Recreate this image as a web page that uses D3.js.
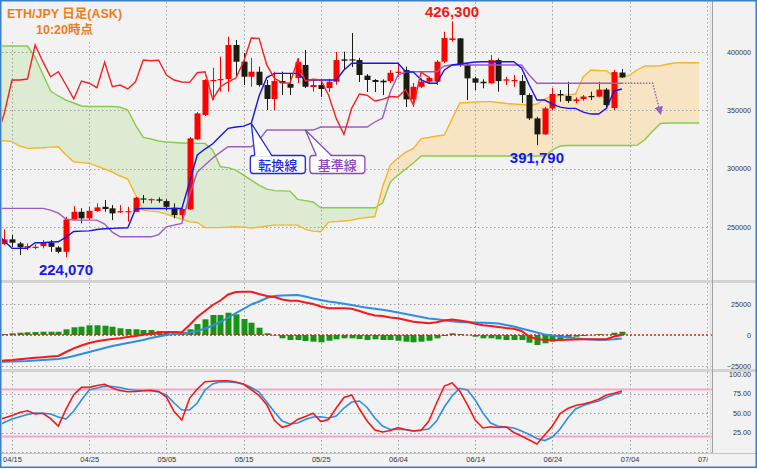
<!DOCTYPE html>
<html lang="ja">
<head>
<meta charset="utf-8">
<script src="https://cdn.jsdelivr.net/npm/d3@7/dist/d3.min.js"></script>
<style>
html,body{margin:0;padding:0;background:#fff;}
svg{display:block;font-family:"Liberation Sans",Arial,sans-serif;}
</style>
</head>
<body>
<svg id="chart" width="757" height="469"></svg>
<script>
// ================= DATA =================
const candleStart = "2025-04-14";
const opens = [235300,239400,235900,232200,232200,233600,236500,232500,228700,256500,
263000,257400,263600,267300,266000,262500,262800,263000,274500,273100,
273700,272200,266500,260200,265100,325100,346000,375100,376000,376800,
406000,391700,378800,383100,371700,359700,375100,372600,377700,388900,
370000,371700,369100,374500,393700,393700,393100,379700,376000,375400,
375100,382200,384600,359400,370200,374500,374500,391700,410300,411700,
388900,377400,374500,373200,393100,375400,375100,375100,363100,343100,
329400,351700,364000,362300,358000,359700,362300,361700,367800,352000,
382400];
const highs = [248000,243100,237300,235900,235100,238800,238800,233600,258800,267900,
266000,267300,270300,273100,268800,268800,267300,275900,277400,274500,
275400,273700,270300,266000,327100,348500,376800,386500,396000,413100,
410300,399100,394900,387400,376000,383100,383100,382000,394900,401700,
376000,376000,377000,400000,400300,416300,394900,381100,376800,376600,
384600,390600,387400,373400,377400,378800,393100,417400,426300,412000,
390600,378800,376600,397400,394600,378800,380300,380300,364600,344500,
353100,369100,367400,374500,361200,363100,366000,374500,369100,384600,
385400];
const lows = [234500,233000,225900,230200,230800,231700,228700,227400,224070,255900,
253100,255900,263000,263000,255900,262200,254500,262800,270300,270300,
270800,264500,257400,255900,264500,324500,345100,358800,366000,366000,
378800,371700,370200,370200,350300,350300,363100,363100,373400,369100,
366000,361400,365700,372000,384600,387100,374300,365700,365700,363100,
373400,378600,352800,352800,369100,373200,371700,390600,408800,387400,
358800,367400,368900,372800,366000,371700,370200,356300,341700,320200,
328800,350300,357400,356300,356000,358200,358800,361200,352800,350300,
377700];
const closes = [239400,236500,232500,233600,233000,236500,233000,228700,256500,263000,
257400,263900,266800,265400,261700,263600,263600,275100,273700,273900,
272500,267300,260200,265400,326000,347400,376000,376000,376800,406000,
391700,378800,383100,371700,359700,375100,373200,369400,391400,370200,
371700,368300,374500,393100,392500,392900,380300,376000,374300,374000,
382200,383100,359400,370200,374500,377700,391700,412000,411700,388900,
377400,373700,373200,393100,375100,376600,376000,363100,343100,329400,
351700,364000,362900,358000,359400,361800,361400,367800,354500,382800,
378300];

const lineStart = "2025-04-13";
const tenkan = [244800,237900,231700,231700,231700,236500,236500,237100,237300,241300,
246100,246500,246700,247800,248500,248800,249100,249300,265400,265800,
265800,265800,265800,265800,265800,288500,311700,316800,321400,328000,
334600,335700,336500,338900,362300,378100,381700,381700,381700,381700,
376000,376000,376000,376000,376000,384600,390300,390300,390300,390300,
390300,390300,390300,383100,382800,376000,373200,373200,384600,388900,
389700,390600,391400,391700,391700,391700,391700,391700,386300,371700,
358800,358800,355400,352800,351700,351700,348500,346800,346800,351700,
366600,368300];
const kijun = [266000,266000,266000,266000,266000,266000,266000,264500,261900,256800,
255900,255900,255900,255900,252500,245600,241600,241600,241600,241600,
241600,243500,250200,251600,253100,277400,297100,303100,309100,314200,
318800,318800,318800,318800,324500,333100,333100,333100,333100,333100,
333100,333100,335700,335700,335700,335700,335700,335700,335700,340000,
343400,365700,380300,382800,383100,383100,383100,383100,388000,388900,
388900,388900,388900,388900,388900,388900,388900,388900,388900,380300,
373200,373200,373200,373200,373200,373200,373200,373200,373200,373200,
373200,373200];
const spanA = [324100,323900,323200,319400,317400,317700,317900,318500,318800,311700,
305900,305200,304500,302200,299700,297100,293700,291100,277400,264500,
263600,263000,261100,258800,256800,254500,254000,249500,249500,249500,
249900,250200,249900,249100,249900,250800,251600,251600,251600,251600,
248000,246500,245900,254200,254600,255100,255900,257400,258100,258800,
284500,303100,309100,314200,317400,325800,326700,328000,328800,342500,
356300,356700,357100,357500,357500,356700,355800,355400,355000,354500,
355400,359700,362300,362700,363100,364000,378800,384600,384100,384000,
378800,378000,380300,384600,388000,388000,388200,389700,390800,390800,
390800,390800];
const spanB = [405100,405100,405100,405100,405100,395400,380800,366600,362300,358800,
356300,353700,353300,353300,353300,353300,352600,350300,337400,326800,
325400,323700,322800,322400,322000,322000,321700,321700,316000,301600,
300900,298800,294500,290200,285900,282500,281200,281000,280800,273700,
272600,271400,266500,266500,266500,266500,266500,266500,266500,266500,
270500,288500,294500,299700,304800,310800,310800,310800,310800,310800,
310800,310800,310800,310800,310800,310800,310800,310800,310800,310800,
310800,310800,316000,319400,319800,319800,319800,319800,319800,319800,
319800,319800,319800,320200,325000,332200,338700,339100,339100,339100,
339100,339100];
const chikouLag = 25;

const macdValues = [-21370,-20570,-20160,-19600,-18950,-18390,-17900,-17340,-16940,-13710,
-10730,-8470,-6450,-5080,-4030,-3230,-2660,-1610,-810,240,
1210,2020,2420,2420,2180,8070,14520,19360,24200,27820,
32660,34680,34920,34920,33070,31450,30650,28630,27660,27660,
26210,25000,22990,21530,21530,21530,21210,19360,17340,15730,
15320,14110,13470,12100,10730,10080,9440,10240,11690,12500,
11690,10730,9110,7900,7260,6450,5650,5000,3230,-1210,
-3470,-3790,-4030,-4030,-3790,-3630,-3470,-3470,-3470,-3470,
-1210,0];
const signalValues = [-21780,-21610,-21370,-21130,-20970,-20570,-20160,-19760,-19360,-18310,
-16940,-15320,-13710,-12100,-10480,-8870,-7660,-6450,-5240,-4030,
-2420,-1210,0,810,1450,2020,3230,5240,7660,10480,
14110,17740,20970,24600,27020,29840,31450,31860,32100,32260,
31050,29440,28230,27020,26210,25240,24200,22990,22020,21130,
20320,19360,18150,16940,15730,14520,13310,12660,11860,11130,
10480,10240,10080,9920,9760,9270,8070,6860,5240,3630,
2020,400,-400,-1210,-1850,-2660,-3230,-3630,-4030,-3790,
-3470,-2820];
const histValues = [0,800,1370,1850,2180,2420,2660,2660,2660,4600,
6210,6690,7820,7820,7500,6690,5400,4840,4600,4030,
4030,3230,2660,2180,2180,4600,8870,12660,16130,16130,
17980,16690,12900,9920,5890,1370,-400,-2660,-4030,-4030,
-4840,-5400,-5890,-4600,-3470,-2660,-2660,-3230,-4030,-3470,
-4030,-4030,-4600,-5400,-5890,-5400,-4600,-2660,-810,1370,
810,-200,-1370,-2660,-2660,-3470,-4030,-4030,-4030,-6210,
-8070,-6690,-5400,-4030,-2660,-1370,-810,-200,810,200,
1850,2660];

const stochK = [40.4,43.7,46.9,50.6,52.9,48.7,49.6,42.8,33.3,54.9,
73.5,82.9,82.9,85.3,86.8,82.1,78.8,77.3,77.6,78.5,
79.1,77.6,70.5,51.9,41.0,68.8,80.8,90.1,90.8,91.4,
91.4,89.7,86.8,80.1,72.4,60.5,40.4,31.7,34.6,41.7,
45.5,49.6,39.1,41.7,56.4,69.9,73.1,55.1,39.7,28.2,
25.6,27.6,31.4,28.8,26.9,27.8,39.7,62.8,84.6,88.5,
78.2,60.3,41.0,30.8,32.4,31.4,32.4,25.0,20.5,15.4,
10.3,21.8,33.3,49.4,55.8,59.6,61.5,64.1,67.6,73.1,
75.4,78.2];
const stochD = [33.3,37.8,42.3,45.3,48.1,50.0,49.6,48.7,44.9,42.3,
52.6,66.7,79.5,82.1,84.4,84.0,82.7,80.4,79.1,78.8,
78.6,76.9,73.1,62.8,53.8,53.8,62.8,79.5,87.2,90.1,
89.7,89.1,87.2,82.7,76.9,64.1,51.3,39.7,35.9,37.2,
41.7,44.9,45.1,43.6,46.2,56.4,64.1,65.4,57.1,43.6,
33.3,28.8,29.1,28.5,26.9,28.2,29.5,39.7,57.7,71.8,
81.7,79.5,66.7,50.0,37.2,32.9,31.9,30.8,26.9,22.4,
17.3,14.7,19.2,29.5,43.6,55.1,59.6,62.8,65.4,69.9,
73.7,76.0];

const xTickLabels = ["04/15","04/25","05/05","05/15","05/25","06/04","06/14","06/24","07/04","07/14"];
const tickYear = "2025";
const priceTicks = [250000,300000,350000,400000];
const macdTicks = [-25000,0,25000];
const stochTicks = [0,25,50,75,100];
const stochLevels = [20,80];

const titleLines = ["ETH/JPY 日足(ASK)", "10:20時点"];
const priceLabels = [
  {date:"2025-06-11", value:426300, text:"426,300", side:"above", color:"#f01a1a"},
  {date:"2025-04-22", value:224070, text:"224,070", side:"below", color:"#1818ee"},
  {date:"2025-06-22", value:320200, text:"391,790", side:"below", color:"#1818ee"}
];
const callouts = [
  {text:"転換線", series:"tenkan", date:"2025-05-16", color:"#1a2be0"},
  {text:"基準線", series:"kijun",  date:"2025-05-23", color:"#8a48b8"}
];
const projection = {turnDate:"2025-07-07", endDate:"2025-07-08", endValue:347400};

// ================= LAYOUT / STYLE =================
const W = 757, H = 469, L = 2, R = 712;
const P = {
  main:  {top: 2,   bottom: 280},
  macd:  {top: 283, bottom: 369},
  stoch: {top: 372, bottom: 453}
};
const C = {
  bg:"#f2f2f2", grid:"#a0a0a0", up:"#ff0000", down:"#1b1b12",
  tenkan:"#1515e8", kijun:"#9a5cc8", chikou:"#f52020",
  spanA:"#f7b52a", spanB:"#86cc4a", fillG:"#dcebd2", fillO:"#f6e4c3",
  macd:"#f21a1a", signal:"#2e8ee6", hist:"#169416", pink:"#f3a6cb",
  title:"#ee7d1e", border:"#3d7fc4"
};

const svg = d3.select("#chart");
const parse = d3.utcParse("%Y-%m-%d");
const cDate = i => d3.utcDay.offset(parse(candleStart), i);
const lDate = i => d3.utcDay.offset(parse(lineStart), i);

const x = d3.scaleUtc().domain([parse("2025-04-15"), parse("2025-07-04")]).range([12, 629.6]);
const yMain = d3.scaleLinear().domain([250000, 400000]).range([227, 52]);
const yMacd = d3.scaleLinear().domain([-25000, 25000]).range([366, 304]);
const yStoch = d3.scaleLinear().domain([0, 100]).range([452, 374]);

svg.append("rect").attr("width", W).attr("height", H).attr("fill", C.bg);

const defs = svg.append("defs");
for (const [k, p] of Object.entries(P)) {
  defs.append("clipPath").attr("id", "clip-" + k).append("rect")
    .attr("x", L).attr("y", p.top).attr("width", R - L).attr("height", p.bottom - p.top);
}
const axClip = {main:[P.main.top, P.main.bottom], macd:[P.macd.top, P.macd.bottom], stoch:[P.stoch.top, 449.5]};
for (const [k, r] of Object.entries(axClip)) {
  defs.append("clipPath").attr("id", "clipAx-" + k).append("rect")
    .attr("x", R).attr("y", r[0]).attr("width", W - R).attr("height", r[1] - r[0]);
}
defs.append("clipPath").attr("id", "clip-xlab").append("rect")
  .attr("x", 0).attr("y", P.stoch.bottom).attr("width", 708).attr("height", 14);
defs.append("marker").attr("id", "arrow").attr("viewBox", "0 0 10 10")
  .attr("refX", 8).attr("refY", 5).attr("markerWidth", 6).attr("markerHeight", 6)
  .attr("orient", "auto").append("path").attr("d", "M0,0L10,5L0,10z").attr("fill", C.kijun);

const tickDates = xTickLabels.map(s => parse(tickYear + "-" + s.replace("/", "-")));

function vGrid(g, p) {
  g.selectAll(null).data(tickDates).join("line")
    .attr("x1", d => Math.round(x(d)) + 0.5).attr("x2", d => Math.round(x(d)) + 0.5)
    .attr("y1", p.top).attr("y2", p.bottom)
    .attr("stroke", C.grid).attr("stroke-width", 1).attr("stroke-dasharray", "1.5,2.5");
}
function hGrid(g, vals, y) {
  g.selectAll(null).data(vals).join("line")
    .attr("x1", L).attr("x2", R).attr("y1", d => Math.round(y(d)) + 0.5).attr("y2", d => Math.round(y(d)) + 0.5)
    .attr("stroke", C.grid).attr("stroke-width", 1).attr("stroke-dasharray", "1.5,2.5");
}

// ================= MAIN PANEL =================
const gMain = svg.append("g").attr("clip-path", "url(#clip-main)");
const cloud = spanA.map((a, i) => ({date: lDate(i), a, b: spanB[i]}));
const aboveA = d3.area().x(d => x(d.date)).y0(-10).y1(d => yMain(d.a));
const belowA = d3.area().x(d => x(d.date)).y0(d => yMain(d.a)).y1(H + 10);
defs.append("clipPath").attr("id", "clipAboveA").append("path").attr("d", aboveA(cloud));
defs.append("clipPath").attr("id", "clipBelowA").append("path").attr("d", belowA(cloud));
const between = d3.area().x(d => x(d.date)).y0(d => yMain(d.a)).y1(d => yMain(d.b));
gMain.append("path").attr("d", between(cloud)).attr("fill", C.fillG).attr("clip-path", "url(#clipAboveA)");
gMain.append("path").attr("d", between(cloud)).attr("fill", C.fillO).attr("clip-path", "url(#clipBelowA)");

vGrid(gMain, P.main);
hGrid(gMain, priceTicks, yMain);

const lineGen = y => d3.line().x(d => x(d.date)).y(d => y(d.value));
const series = (arr, start) => arr.map((v, i) => ({date: d3.utcDay.offset(parse(start), i), value: v}));

gMain.append("path").datum(series(spanB, lineStart)).attr("d", lineGen(yMain))
  .attr("fill", "none").attr("stroke", C.spanB).attr("stroke-width", 1.4);
gMain.append("path").datum(series(spanA, lineStart)).attr("d", lineGen(yMain))
  .attr("fill", "none").attr("stroke", C.spanA).attr("stroke-width", 1.4);

// candles
const candles = opens.map((o, i) => ({date: cDate(i), o, h: highs[i], l: lows[i], c: closes[i]}));
const bw = 6;
const cg = gMain.append("g");
cg.selectAll("line").data(candles).join("line")
  .attr("x1", d => Math.round(x(d.date)) + 0.5).attr("x2", d => Math.round(x(d.date)) + 0.5)
  .attr("y1", d => yMain(d.h)).attr("y2", d => yMain(d.l))
  .attr("stroke", d => d.c >= d.o ? C.up : C.down).attr("stroke-width", 1);
cg.selectAll("rect").data(candles).join("rect")
  .attr("x", d => Math.round(x(d.date)) + 0.5 - bw / 2)
  .attr("y", d => yMain(Math.max(d.o, d.c)))
  .attr("width", bw)
  .attr("height", d => Math.max(1.2, Math.abs(yMain(d.o) - yMain(d.c))))
  .attr("fill", d => d.c >= d.o ? C.up : C.down);

gMain.append("path").datum(series(kijun, lineStart)).attr("d", lineGen(yMain))
  .attr("fill", "none").attr("stroke", C.kijun).attr("stroke-width", 1.4);
gMain.append("path").datum(series(tenkan, lineStart)).attr("d", lineGen(yMain))
  .attr("fill", "none").attr("stroke", C.tenkan).attr("stroke-width", 1.4);
const chikou = closes.map((c, i) => ({date: d3.utcDay.offset(cDate(i), -chikouLag), value: c}));
gMain.append("path").datum(chikou).attr("d", lineGen(yMain))
  .attr("fill", "none").attr("stroke", C.chikou).attr("stroke-width", 1.4);

// projection arrow (dotted)
const lastK = kijun[kijun.length - 1];
const lastKDate = lDate(kijun.length - 1);
const projPts = [[x(lastKDate), yMain(lastK)], [x(parse(projection.turnDate)), yMain(lastK)],
                 [x(parse(projection.endDate)), yMain(projection.endValue)]];
gMain.append("path").attr("d", d3.line()(projPts)).attr("fill", "none")
  .attr("stroke", C.kijun).attr("stroke-width", 1.4).attr("stroke-dasharray", "1.5,1.5")
  .attr("marker-end", "url(#arrow)");

// title block
gMain.append("rect").attr("x", L).attr("y", P.main.top).attr("width", 128).attr("height", 39).attr("fill", C.bg);
gMain.selectAll(".title").data(titleLines).join("text").attr("class", "title")
  .attr("x", (d, i) => i === 0 ? 7 : 36).attr("y", (d, i) => i === 0 ? 18 : 34)
  .attr("fill", C.title)
  .attr("font-family", "'Liberation Sans', 'Noto Sans CJK JP', sans-serif")
  .attr("font-weight", "bold").attr("font-size", 12.5).text(d => d);

// price labels
gMain.selectAll(".plab").data(priceLabels).join("text").attr("class", "plab")
  .attr("x", d => x(parse(d.date)))
  .attr("y", d => d.side === "above" ? yMain(d.value) - 4 : yMain(d.value) + 17.5)
  .attr("text-anchor", "middle").attr("fill", d => d.color)
  .attr("font-family", "'Liberation Sans', Arial, sans-serif")
  .attr("font-weight", "bold").attr("font-size", 15).text(d => d.text);

// callouts
const seriesMap = {tenkan, kijun};
callouts.forEach((co, k) => {
  const idx = d3.utcDay.count(parse(lineStart), parse(co.date));
  const ax = x(parse(co.date)), ay = yMain(seriesMap[co.series][idx]);
  const bx = k === 0 ? ax - 1.5 : ax + 4, by = 155, bwid = 55, bh = 18;
  const t0 = k === 0 ? bx + 5 : bx + 7, t1 = bx + 22;
  const g = gMain.append("g");
  g.append("rect").attr("x", bx + 0.5).attr("y", by + 0.5).attr("width", bwid).attr("height", bh)
    .attr("rx", 3).attr("fill", "#fff").attr("stroke", co.color).attr("stroke-width", 1.3);
  g.append("path").attr("d", d3.line()([[t0, by + 1.5], [ax, ay], [t1, by + 1.5]]) + "Z")
    .attr("fill", "#fff").attr("stroke", "none");
  g.append("path").attr("d", d3.line()([[t0, by + 0.5], [ax, ay], [t1, by + 0.5]]))
    .attr("fill", "none").attr("stroke", co.color).attr("stroke-width", 1.3);
  g.append("text").attr("x", bx + 0.5 + bwid / 2).attr("y", by + 14.5).attr("text-anchor", "middle")
    .attr("fill", co.color).attr("font-family", "'Noto Sans CJK JP', sans-serif")
    .attr("font-size", 13).attr("font-weight", "500").text(co.text);
});

// ================= MACD PANEL =================
const gM = svg.append("g").attr("clip-path", "url(#clip-macd)");
vGrid(gM, P.macd);
hGrid(gM, macdTicks.filter(v => v !== 0), yMacd);
const hist = series(histValues, lineStart);
gM.selectAll(".bar").data(hist).join("rect").attr("class", "bar")
  .attr("x", d => Math.round(x(d.date)) + 0.5 - 3).attr("width", 6)
  .attr("y", d => yMacd(Math.max(0, d.value)))
  .attr("height", d => Math.abs(yMacd(d.value) - yMacd(0)))
  .attr("fill", C.hist);
gM.append("line").attr("x1", L).attr("x2", R).attr("y1", yMacd(0)).attr("y2", yMacd(0))
  .attr("stroke", "#e81818").attr("stroke-width", 1.6).attr("stroke-dasharray", "2,2");
gM.append("path").datum(series(signalValues, lineStart)).attr("d", lineGen(yMacd))
  .attr("fill", "none").attr("stroke", C.signal).attr("stroke-width", 2);
gM.append("path").datum(series(macdValues, lineStart)).attr("d", lineGen(yMacd))
  .attr("fill", "none").attr("stroke", C.macd).attr("stroke-width", 2);

// ================= STOCH PANEL =================
const gS = svg.append("g").attr("clip-path", "url(#clip-stoch)");
vGrid(gS, P.stoch);
hGrid(gS, [25, 50, 75, 0], yStoch);
gS.selectAll(".lvl").data(stochLevels).join("line").attr("class", "lvl")
  .attr("x1", L).attr("x2", R).attr("y1", d => yStoch(d)).attr("y2", d => yStoch(d))
  .attr("stroke", C.pink).attr("stroke-width", 2);
gS.append("path").datum(series(stochD, lineStart)).attr("d", lineGen(yStoch))
  .attr("fill", "none").attr("stroke", C.signal).attr("stroke-width", 1.6);
gS.append("path").datum(series(stochK, lineStart)).attr("d", lineGen(yStoch))
  .attr("fill", "none").attr("stroke", C.macd).attr("stroke-width", 1.6);

// ================= FRAMES / AXES =================
svg.append("rect").attr("x", 0).attr("y", P.main.bottom).attr("width", W).attr("height", P.macd.top - P.main.bottom).attr("fill", "#d3d3d3");
svg.append("rect").attr("x", 0).attr("y", P.macd.bottom).attr("width", W).attr("height", P.stoch.top - P.macd.bottom).attr("fill", "#d3d3d3");
svg.append("line").attr("x1", 0).attr("x2", W).attr("y1", P.stoch.bottom + 0.5).attr("y2", P.stoch.bottom + 0.5).attr("stroke", "#c4c4c4");
svg.append("line").attr("x1", R - 1.5).attr("x2", R - 1.5).attr("y1", 0).attr("y2", P.stoch.bottom).attr("stroke", "#dadada");
svg.append("line").attr("x1", R + 0.5).attr("x2", R + 0.5).attr("y1", 0).attr("y2", P.stoch.bottom).attr("stroke", "#a0a0a0");

function rightAxis(y, ticks, minor, fmt, key) {
  const g = svg.append("g").attr("clip-path", `url(#clipAx-${key})`);
  const ax = g.append("g").attr("transform", `translate(${R},0)`)
    .call(d3.axisRight(y).tickValues(ticks).tickSize(0).tickPadding(0).tickFormat(fmt));
  ax.select(".domain").remove();
  ax.selectAll("text").attr("x", 39).attr("text-anchor", "end")
    .attr("font-family", "'Liberation Sans', Arial, sans-serif").attr("font-size", 7.2).attr("fill", "#333");
  const mg = g.append("g").attr("transform", `translate(${R + 0.5},0)`)
    .call(d3.axisLeft(y).tickValues(minor).tickSize(3).tickFormat(""));
  mg.select(".domain").remove();
  mg.selectAll("line").attr("stroke", "#a8a8a8");
}
rightAxis(yMain, priceTicks, d3.range(200000, 440001, 10000), d3.format("d"), "main");
rightAxis(yMacd, macdTicks, d3.range(-40000, 40001, 5000), d3.format("d"), "macd");
rightAxis(yStoch, stochTicks, d3.range(0, 101, 5), d3.format(".2f"), "stoch");

const xa = svg.append("g").attr("clip-path", "url(#clip-xlab)")
  .append("g").attr("transform", `translate(0,${P.stoch.bottom})`)
  .call(d3.axisBottom(x).tickValues(tickDates).tickSize(0).tickPadding(3.5).tickFormat(d3.utcFormat("%m/%d")));
xa.select(".domain").remove();
xa.selectAll("text").attr("font-family", "'Liberation Sans', Arial, sans-serif").attr("font-size", 7.5).attr("fill", "#333");

svg.append("rect").attr("x", 0.75).attr("y", 0.75).attr("width", W - 1.5).attr("height", 466.5)
  .attr("fill", "none").attr("stroke", C.border).attr("stroke-width", 1.5);
</script>
</body>
</html>
